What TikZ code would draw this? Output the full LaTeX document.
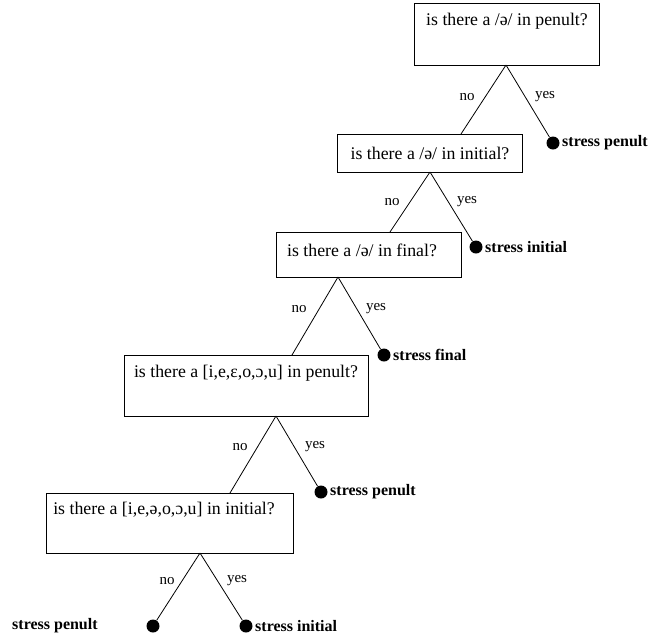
\documentclass[tikz,border=0pt]{standalone}
\usepackage{fontspec}
\setmainfont{Liberation Serif}
\begin{document}
\begin{tikzpicture}[x=1pt,y=-1pt,
  qbox/.style={draw,line width=0.8pt,inner sep=0pt,anchor=north west},
  qtext/.style={inner sep=0pt,font=\fontsize{17.8}{20}\selectfont},
  lab/.style={inner sep=0pt,font=\fontsize{15}{17}\selectfont},
  leaf/.style={circle,fill=black,inner sep=0pt,minimum size=13pt},
  res/.style={inner sep=0pt,anchor=west,font=\fontsize{16}{18}\selectfont\bfseries},
  br/.style={line width=0.8pt}]
\useasboundingbox (0,0) rectangle (657,638);
% boxes
\node[qbox,minimum width=185pt,minimum height=62pt] (b1) at (414,3) {};
\node[qbox,minimum width=185pt,minimum height=38pt] (b2) at (337,134) {};
\node[qbox,minimum width=185pt,minimum height=45pt] (b3) at (276,232) {};
\node[qbox,minimum width=244pt,minimum height=61pt] (b4) at (124,355) {};
\node[qbox,minimum width=247pt,minimum height=60pt] (b5) at (46,493) {};
% texts
\node[qtext] (t1) at (507,21) {is there a /ə/ in penult?};
\node[qtext] (t2) at (430,153) {is there a /ə/ in initial?};
\node[qtext] (t3) at (362,250) {is there a /ə/ in final?};
\node[qtext] (t4) at (246,373) {is there a [i,e,ɛ,o,ɔ,u] in penult?};
\node[qtext] (t5) at (164,510) {is there a [i,e,ə,o,ɔ,u] in initial?};
% branch points
\coordinate (p1) at (506,65);
\coordinate (p2) at (430,172);
\coordinate (p3) at (338,277);
\coordinate (p4) at (276,416);
\coordinate (p5) at (200,553);
\coordinate (e2) at (461,134);
\coordinate (e3) at (390,232);
\coordinate (e4) at (292,355);
\coordinate (e5) at (230,493);
% leaves
\node[leaf] (d1) at (553,143) {};
\node[leaf] (d2) at (476,247) {};
\node[leaf] (d3) at (384,355) {};
\node[leaf] (d4) at (321,492) {};
\node[leaf] (d5) at (246,626) {};
\node[leaf] (d6) at (153,626) {};
\node[res] (r1) at (562,143) {stress penult};
\node[res] (r2) at (485,247) {stress initial};
\node[res] (r3) at (393,355) {stress final};
\node[res] (r4) at (330,492) {stress penult};
\node[res] (r5) at (255,626) {stress initial};
\node[res] (r6) at (12,626) {stress penult};
% branches
\draw[br] (p1) -- (e2);
\draw[br] (p1) -- (d1);
\draw[br] (p2) -- (e3);
\draw[br] (p2) -- (d2);
\draw[br] (p3) -- (e4);
\draw[br] (p3) -- (d3);
\draw[br] (p4) -- (e5);
\draw[br] (p4) -- (d4);
\draw[br] (p5) -- (d6);
\draw[br] (p5) -- (d5);
% labels
\node[lab] (n1) at (467,97) {no};
\node[lab] (y1) at (545,97) {yes};
\node[lab] (n2) at (392,202) {no};
\node[lab] (y2) at (467,202) {yes};
\node[lab] (n3) at (299,309) {no};
\node[lab] (y3) at (376,309) {yes};
\node[lab] (n4) at (240,447) {no};
\node[lab] (y4) at (315,447) {yes};
\node[lab] (n5) at (167,581) {no};
\node[lab] (y5) at (237,581) {yes};
\end{tikzpicture}
\end{document}
